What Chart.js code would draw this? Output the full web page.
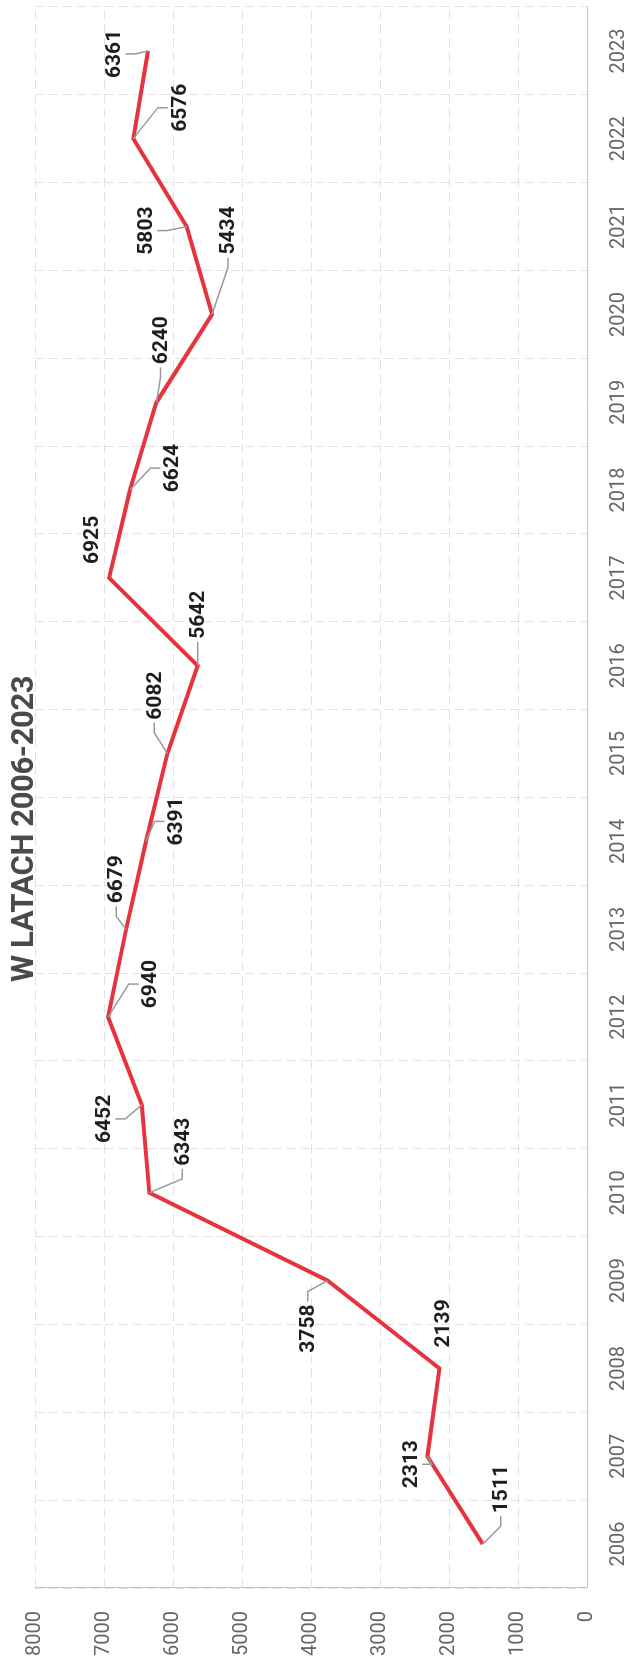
<!DOCTYPE html>
<html>
<head>
<meta charset="utf-8">
<script src="https://cdn.jsdelivr.net/npm/chart.js@4.4.1/dist/chart.umd.min.js"></script>
<style>
  html, body { margin: 0; padding: 0; background: #fff; overflow: hidden; }
  body { width: 635px; height: 1668px; position: relative; }
  /* wykres rysowany poziomo, potem obrócony o -90 stopni */
  #wrap {
    position: absolute; left: 0; top: 0;
    width: 1668px; height: 635px;
    transform-origin: 0 0;
    transform: translateY(1668px) rotate(-90deg);
  }
  #title {
    position: absolute; left: 686px; top: 4px;
    font: 700 31px Roboto, sans-serif; color: #4a4a4a;
    white-space: nowrap; letter-spacing: -0.4px;
  }
  canvas { position: absolute; left: 0; top: 0; }
</style>
</head>
<body>
<div id="wrap">
  <canvas id="chart" width="1668" height="635"></canvas>
  <div id="title">W LATACH 2006-2023</div>
</div>
<script>
// lata
const YEARS = ['2006', '2007', '2008', '2009', '2010', '2011', '2012', '2013', '2014',
               '2015', '2016', '2017', '2018', '2019', '2020', '2021', '2022', '2023'];

// wartości
const VALUES = [1511, 2313, 2139, 3758, 6343, 6452, 6940, 6679, 6391,
                6082, 5642, 6925, 6624, 6240, 5434, 5803, 6576, 6361];

// oś wartości
const Y_MIN = 0;
const Y_MAX = 8000;
const Y_STEP = 1000;

// przesunięcie etykiet względem punktu [dx, dy, linia prowadząca]
const LABEL_POS = [
  [55, 18, true], [-8, -17, true], [45, 3, false], [-48, -20, true],
  [51, 33, true], [-14, -38, true], [33, 42, true], [50, -10, true],
  [20, 30, true], [58, -13, true], [51, 0, true], [38, -17, false],
  [22, 42, true], [62, 4, true], [84, 16, true], [-4, -41, true],
  [31, 46, true], [-3, -34, true]
];

const labelPlugin = {
  id: 'valueLabels',
  afterDatasetsDraw(chart) {
    const ctx = chart.ctx;
    const meta = chart.getDatasetMeta(0);
    ctx.save();
    ctx.font = '700 21px Roboto, sans-serif';
    ctx.textAlign = 'center';
    ctx.textBaseline = 'middle';
    meta.data.forEach((pt, i) => {
      const [dx, dy, leader] = LABEL_POS[i];
      const cx = pt.x + dx, cy = pt.y + dy;
      const text = String(chart.data.datasets[0].data[i]);
      const w = ctx.measureText(text).width, h = 15;
      if (leader) {
        let tx, ty, ex, ey;
        if (Math.abs(dx) - w / 2 > Math.abs(dy) - h / 2) {
          const s = Math.sign(dx);
          tx = cx - s * (w / 2 + 3); ty = cy;
          ex = tx - s * 10; ey = ty;
        } else {
          const s = Math.sign(dy) || 1;
          tx = cx; ty = cy - s * (h / 2 + 4);
          ex = tx; ey = ty - s * 10;
        }
        ctx.strokeStyle = '#9a9a9a';
        ctx.lineWidth = 1.5;
        ctx.beginPath();
        ctx.moveTo(pt.x, pt.y);
        ctx.lineTo(ex, ey);
        ctx.lineTo(tx, ty);
        ctx.stroke();
      }
      ctx.fillStyle = '#1e1e1e';
      ctx.fillText(text, cx, cy + 1);
    });
    ctx.restore();
  }
};

new Chart(document.getElementById('chart'), {
  type: 'line',
  data: {
    labels: YEARS,
    datasets: [{
      data: VALUES,
      borderColor: '#e6343f',
      borderWidth: 4,
      pointRadius: 0,
      tension: 0,
      fill: false
    }]
  },
  options: {
    responsive: false,
    devicePixelRatio: 1,
    animation: false,
    layout: { padding: { top: 26, right: 7, left: 0, bottom: 0 } },
    plugins: { legend: { display: false }, tooltip: { enabled: false } },
    scales: {
      x: {
        offset: true,
        grid: { offset: true, color: '#e2e2e2', drawTicks: false },
        border: { color: '#c4c4c4', width: 1, dash: [9, 5] },
        ticks: { color: '#666', font: { family: 'Roboto', size: 20 }, padding: 20, maxRotation: 0 },
        afterFit: s => { s.height = 48; }
      },
      y: {
        min: Y_MIN,
        max: Y_MAX,
        grid: { color: '#e2e2e2', drawTicks: false },
        border: { color: '#c4c4c4', width: 1, dash: [9, 5] },
        ticks: {
          stepSize: Y_STEP,
          color: '#666',
          font: { family: 'Roboto', size: 20 },
          padding: 23,
          callback: v => String(v)
        },
        afterFit: s => { s.width = 80; }
      }
    }
  },
  plugins: [labelPlugin]
});
</script>
</body>
</html>
